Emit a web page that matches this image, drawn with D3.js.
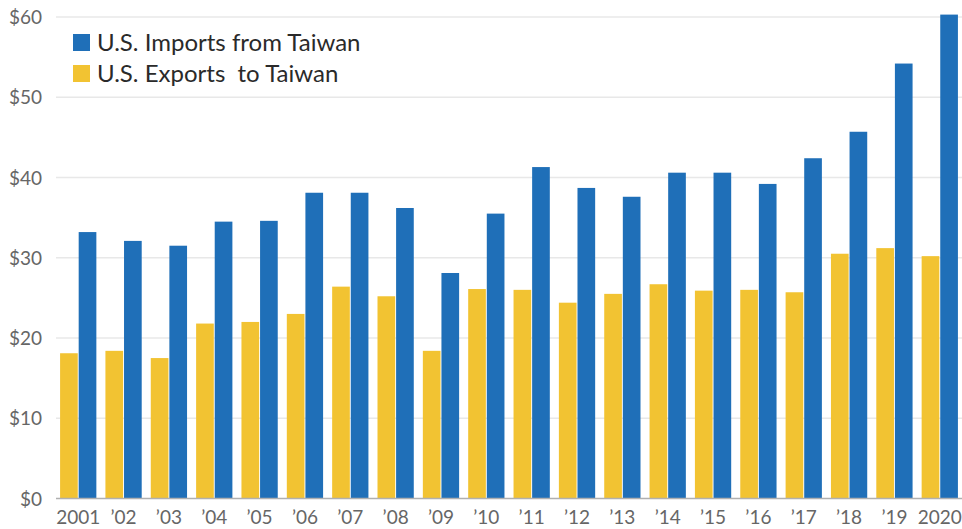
<!DOCTYPE html>
<html>
<head>
<meta charset="utf-8">
<script src="https://cdn.jsdelivr.net/npm/d3@7"></script>
<style>
  body { margin: 0; background: #fff; }
  text { font-family: Lato, "Open Sans", sans-serif; }
</style>
</head>
<body>
<div class="grafico"></div>
<script>
var years = ["2001", "\u201902", "\u201903", "\u201904", "\u201905", "\u201906", "\u201907", "\u201908", "\u201909", "\u201910",
             "\u201911", "\u201912", "\u201913", "\u201914", "\u201915", "\u201916", "\u201917", "\u201918", "\u201919", "2020"];
var imports = [33.2, 32.1, 31.5, 34.5, 34.6, 38.1, 38.1, 36.2, 28.1, 35.5,
               41.3, 38.7, 37.6, 40.6, 40.6, 39.2, 42.4, 45.7, 54.2, 60.3];
var exports = [18.1, 18.4, 17.5, 21.8, 22.0, 23.0, 26.4, 25.2, 18.4, 26.1,
               26.0, 24.4, 25.5, 26.7, 25.9, 26.0, 25.7, 30.5, 31.2, 30.2];
var yTicks = [0, 10, 20, 30, 40, 50, 60];
var seriesNames = ["U.S. Imports from Taiwan", "U.S. Exports  to Taiwan"];

var width = 962, height = 529;
var margin = {top: 17, right: 0, bottom: 31, left: 56};

var blue = "#1f6fb8", yellow = "#f2c332";

var svg = d3.select(".grafico")
  .append("svg")
  .attr("width", width)
  .attr("height", height);

var data = years.map(function(y, i) { return {year: y, imp: imports[i], exp: exports[i]}; });

var x = d3.scaleBand()
  .domain(years)
  .range([margin.left, width - margin.right])
  .paddingInner(0.2)
  .paddingOuter(0.09);

var sub = d3.scaleBand()
  .domain(["exp", "imp"])
  .range([0, x.bandwidth()])
  .paddingInner(0.05);

var y = d3.scaleLinear()
  .domain([0, 60])
  .range([height - margin.bottom + 0.5, margin.top]);

// grid lines
svg.append("g")
  .selectAll("line")
  .data(yTicks.filter(function(d) { return d > 0; }))
  .enter().append("line")
    .attr("x1", margin.left)
    .attr("x2", width)
    .attr("y1", function(d) { return y(d); })
    .attr("y2", function(d) { return y(d); })
    .style("stroke", "#e8e8e8")
    .style("stroke-width", 1.5);

// y labels
svg.append("g")
  .selectAll("text")
  .data(yTicks)
  .enter().append("text")
    .attr("x", 42)
    .attr("y", function(d) { return y(d) + 7; })
    .attr("text-anchor", "end")
    .style("font-size", "19px")
    .style("fill", "#666")
    .text(function(d) { return "$" + d; });

// bars
var groups = svg.append("g")
  .selectAll("g")
  .data(data)
  .enter().append("g")
    .attr("transform", function(d) { return "translate(" + x(d.year) + ",0)"; });

groups.append("rect")
  .attr("x", sub("exp"))
  .attr("width", sub.bandwidth())
  .attr("y", function(d) { return y(d.exp); })
  .attr("height", function(d) { return y(0) - y(d.exp); })
  .style("fill", yellow);

groups.append("rect")
  .attr("x", sub("imp"))
  .attr("width", sub.bandwidth())
  .attr("y", function(d) { return y(d.imp); })
  .attr("height", function(d) { return y(0) - y(d.imp); })
  .style("fill", blue);

// baseline
svg.append("line")
  .attr("x1", margin.left)
  .attr("x2", width)
  .attr("y1", y(0))
  .attr("y2", y(0))
  .style("stroke", "#b0b0b0")
  .style("stroke-width", 1.5);

// x labels
svg.append("g")
  .selectAll("text")
  .data(years)
  .enter().append("text")
    .attr("x", function(d) { return x(d) + x.bandwidth() / 2; })
    .attr("y", 524)
    .attr("text-anchor", "middle")
    .style("font-size", "19px")
    .style("fill", "#666")
    .text(function(d) { return d; });

// legend
var legend = svg.append("g")
  .selectAll("g")
  .data(seriesNames)
  .enter().append("g")
    .attr("transform", function(d, i) { return "translate(73," + (34 + i * 31) + ")"; });

legend.append("rect")
  .attr("width", 17)
  .attr("height", 17)
  .style("fill", function(d, i) { return i === 0 ? blue : yellow; });

legend.append("text")
  .attr("x", 24)
  .attr("y", 17)
  .style("font-size", "24px")
  .style("fill", "#2a2a2a")
  .style("white-space", "pre")
  .attr("xml:space", "preserve")
  .text(function(d) { return d; });
</script>
</body>
</html>
